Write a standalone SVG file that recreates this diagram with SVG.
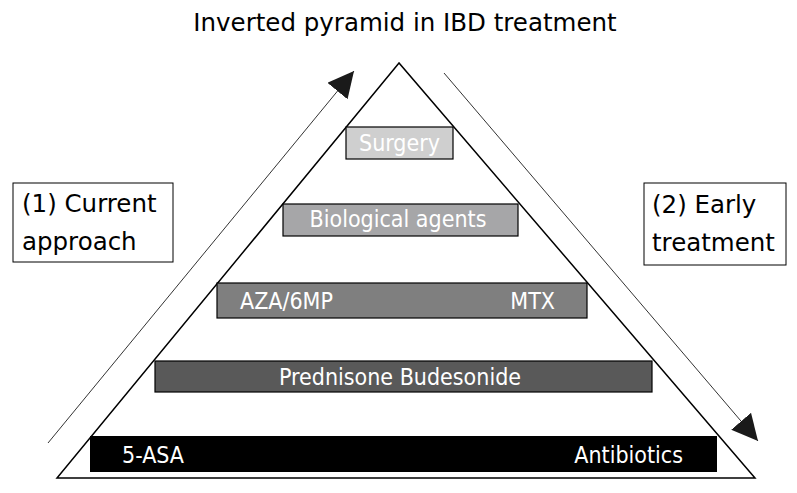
<svg xmlns="http://www.w3.org/2000/svg" width="797" height="493" viewBox="0 0 797 493">
<defs>
<style>
text{font-family:"DejaVu Sans","Liberation Sans",sans-serif;}
.lbl{font-size:24.5px;fill:#000;}
.bar{stroke:#000;stroke-width:1.2;}
.bt{font-family:"DejaVu Sans Condensed","DejaVu Sans",sans-serif;font-stretch:condensed;font-size:23px;fill:#fff;}
.arr{stroke:#333;stroke-width:1;fill:none;}
</style>
<marker id="ah" viewBox="0 0 10 10" refX="10" refY="5" markerWidth="26" markerHeight="26" markerUnits="userSpaceOnUse" orient="auto">
<path d="M0,0 L10,5 L0,10 Z" fill="#1a1a1a"/>
</marker>
</defs>
<rect width="797" height="493" fill="#fff"/>
<text x="405" y="31" text-anchor="middle" style="font-size:24.5px">Inverted pyramid in IBD treatment</text>
<g id="pyramid">
<path d="M399,63 L57,478 L755,478 Z" fill="none" stroke="#000" stroke-width="1.5"/>
</g>
<g id="connectors">
<line class="arr" x1="48" y1="443" x2="354" y2="71" marker-end="url(#ah)"/>
<line class="arr" x1="444" y1="73" x2="758" y2="441" marker-end="url(#ah)"/>
</g>
<g id="current">
<rect x="13" y="183" width="160" height="79" fill="#fff" stroke="#000" stroke-width="1"/>
<text class="lbl" x="22" y="212">(1) Current</text>
<text class="lbl" x="22" y="250">approach</text>
</g>
<g id="early">
<rect x="644" y="183" width="142" height="82" fill="#fff" stroke="#000" stroke-width="1"/>
<text class="lbl" x="652" y="213">(2) Early</text>
<text class="lbl" x="652" y="251">treatment</text>
</g>
<g id="surgery">
<rect class="bar" x="346" y="127" width="107" height="32" fill="#cfcfcf"/>
<text class="bt" x="399.5" y="151" text-anchor="middle">Surgery</text>
</g>
<g id="biological">
<rect class="bar" x="283" y="204" width="235" height="32" fill="#a6a6a8"/>
<text class="bt" x="398" y="227" text-anchor="middle">Biological agents</text>
</g>
<g id="immuno">
<rect class="bar" x="217" y="283" width="370" height="35" fill="#7f7f7f"/>
<text class="bt" x="240" y="309">AZA/6MP</text>
<text class="bt" x="555" y="309" text-anchor="end">MTX</text>
</g>
<g id="steroids">
<rect class="bar" x="155" y="361" width="497" height="31" fill="#595959"/>
<text class="bt" x="400" y="385" text-anchor="middle">Prednisone Budesonide</text>
</g>
<g id="base">
<rect x="90" y="436" width="627" height="36" fill="#000"/>
<text class="bt" x="122" y="463">5-ASA</text>
<text class="bt" x="683" y="463" text-anchor="end">Antibiotics</text>
</g>
</svg>
